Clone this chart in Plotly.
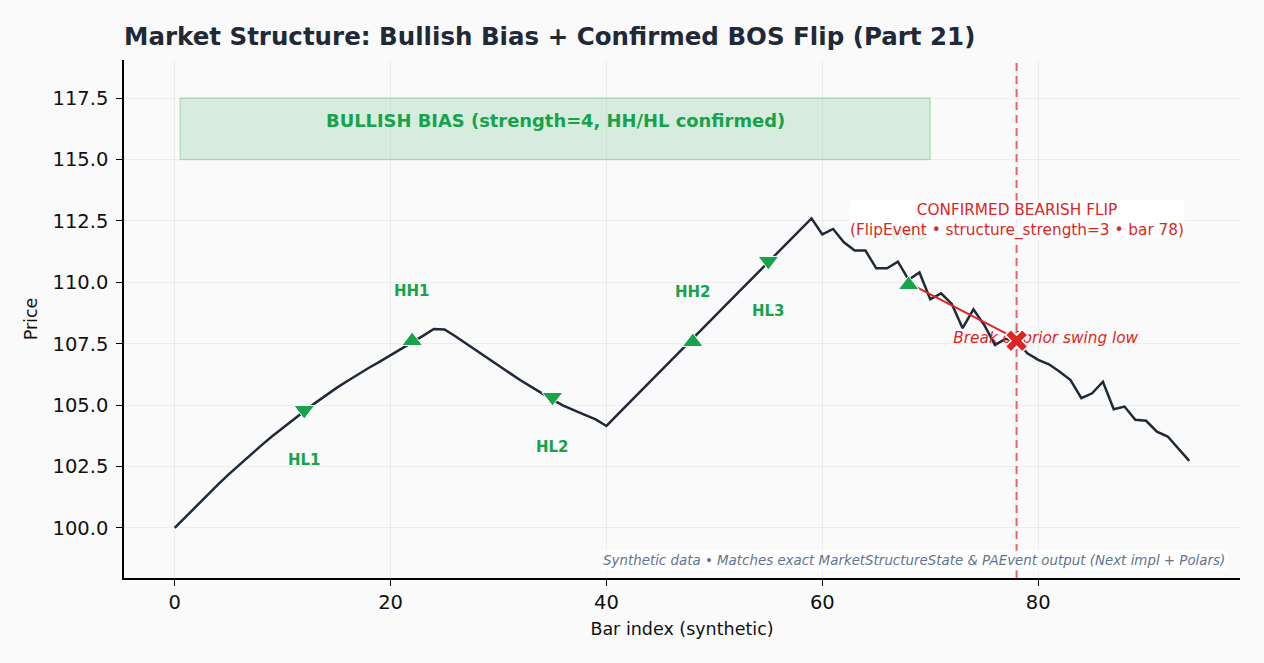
import plotly.graph_objects as go

# ---------------- data ----------------
bars = list(range(95))
price = [
    100.0, 100.45, 100.9, 101.33, 101.76, 102.18, 102.58, 102.97, 103.35, 103.72,
    104.07, 104.41, 104.75, 105.08, 105.40, 105.70, 105.98, 106.26, 106.52, 106.77,
    107.03, 107.28, 107.55, 107.82, 108.10, 108.08, 107.80, 107.50, 107.20, 106.90,
    106.60, 106.30, 106.02, 105.75, 105.48, 105.22, 104.98, 104.78, 104.60, 104.42,
    104.15, 104.60, 105.04, 105.49, 105.93, 106.38, 106.82, 107.27, 107.71, 108.16,
    108.60, 109.05, 109.49, 109.94, 110.38, 110.83, 111.27, 111.72, 112.16, 112.60,
    111.95, 112.17, 111.63, 111.29, 111.29, 110.57, 110.57, 110.84, 110.10, 110.40,
    109.31, 109.55, 109.12, 108.13, 108.90, 108.26, 107.45, 107.70, 107.60, 107.11,
    106.84, 106.66, 106.36, 106.02, 105.28, 105.48, 105.95, 104.83, 104.94, 104.40,
    104.36, 103.92, 103.72, 103.24, 102.73,
]

hl_x = [12, 35, 55]
hl_y = [104.80, 105.33, 110.87]
hl_labels = ["HL1", "HL2", "HL3"]

hh_x = [22, 48, 68]
hh_y = [107.61, 107.57, 109.89]
hh_labels = ["HH1", "HH2", "HH3"]

bias_x = [0.5, 70.0]
bias_y = [115.0, 117.5]
bias_text = "BULLISH BIAS (strength=4, HH/HL confirmed)"

flip_bar = 78
flip_price = 107.62
break_line_x = [68, 78]
break_line_y = [109.97, 107.70]
break_text = "Break of prior swing low"
flip_line1 = "CONFIRMED BEARISH FLIP"
flip_line2 = "(FlipEvent • structure_strength=3 • bar 78)"
footer = "Synthetic data • Matches exact MarketStructureState & PAEvent output (Next impl + Polars)"
title = "Market Structure: Bullish Bias + Confirmed BOS Flip (Part 21)"

x_ticks = [0, 20, 40, 60, 80]
y_ticks = [100.0, 102.5, 105.0, 107.5, 110.0, 112.5, 115.0, 117.5]

# ---------------- styles ----------------
FONT = "DejaVu Sans"
GREEN = "#16a34a"
RED = "#dc2626"
DARK = "#1f2937"

fig = go.Figure()

# price line
fig.add_trace(go.Scatter(x=bars, y=price, mode="lines",
                         line=dict(color=DARK, width=2.5), hoverinfo="skip"))

# red break line
fig.add_trace(go.Scatter(x=break_line_x, y=break_line_y, mode="lines",
                         line=dict(color=RED, width=2.0), hoverinfo="skip"))

# swing markers
fig.add_trace(go.Scatter(x=hl_x, y=hl_y, mode="markers",
                         marker=dict(symbol="triangle-down", size=18, color=GREEN,
                                     line=dict(color="white", width=1))))
fig.add_trace(go.Scatter(x=hh_x, y=hh_y, mode="markers",
                         marker=dict(symbol="triangle-up", size=18, color=GREEN,
                                     line=dict(color="white", width=1))))

# swing labels
for xs, ys, labs, shift in [(hl_x, hl_y, hl_labels, -1), (hh_x, hh_y, hh_labels, 1)]:
    for x, y, lab in zip(xs, ys, labs):
        fig.add_annotation(x=x, y=y, text=f"<b>{lab}</b>", showarrow=False,
                           yshift=50 * shift,
                           font=dict(family=FONT, size=15, color=GREEN),
                           xanchor="center", yanchor="middle")

# break text (under the X marker)
fig.add_trace(go.Scatter(x=[80.7], y=[107.69], mode="text", text=[break_text],
                         textposition="middle center",
                         textfont=dict(family=FONT, size=15.3, color=RED, style="italic"),
                         hoverinfo="skip"))

# flip X marker
fig.add_trace(go.Scatter(x=[flip_bar], y=[flip_price], mode="markers",
                         marker=dict(symbol="x", size=20, color=RED,
                                     line=dict(color="white", width=1.5))))

# shapes
fig.add_shape(type="rect", xref="x", yref="y",
              x0=bias_x[0], x1=bias_x[1], y0=bias_y[0], y1=bias_y[1],
              fillcolor="rgba(22,163,74,0.15)",
              line=dict(color="rgba(22,163,74,0.22)", width=1.5), layer="below")
fig.add_shape(type="line", xref="x", yref="paper", x0=flip_bar, x1=flip_bar, y0=0, y1=1,
              line=dict(color="rgba(220,38,38,0.7)", width=2, dash="8px,5px"), layer="above")

# bias text
fig.add_annotation(x=sum(bias_x) / 2, y=116.57, text=f"<b>{bias_text}</b>", showarrow=False,
                   font=dict(family=FONT, size=17.9, color=GREEN))

# flip annotation box
fig.add_annotation(x=flip_bar, y=112.52,
                   text=flip_line1 + "<br>" + flip_line2, showarrow=False,
                   font=dict(family=FONT, size=15.3, color=RED),
                   bgcolor="rgba(255,255,255,0.85)", borderpad=0,
                   xanchor="center", yanchor="middle")

# footer
fig.add_annotation(xref="paper", yref="paper", x=0.989, y=0.033, text=footer,
                   showarrow=False, xanchor="right", yanchor="middle",
                   font=dict(family=FONT, size=13.4, color="#64748b", style="italic"),
                   bgcolor="rgba(255,255,255,0.7)", borderpad=2)

axis_common = dict(
    showline=True, linecolor="black", linewidth=1.5, mirror=False,
    ticks="outside", ticklen=6, tickwidth=1.2, tickcolor="black",
    showgrid=True, gridcolor="rgba(0,0,0,0.05)", gridwidth=1, zeroline=False,
    tickfont=dict(family=FONT, size=19.5, color="#111111"),
)

fig.update_layout(
    width=1264, height=663,
    margin=dict(l=124, r=24, t=60, b=85),
    paper_bgcolor="#fafafa", plot_bgcolor="#fafafa",
    showlegend=False,
    title=dict(text=f"<b>{title}</b>", x=124 / 1264, xanchor="left",
               y=1 - 36 / 663, yanchor="middle", yref="container",
               font=dict(family=FONT, size=24.5, color=DARK)),
    xaxis=dict(range=[-4.7, 98.7], tickvals=x_ticks,
               title=dict(text="Bar index (synthetic)", font=dict(family=FONT, size=17.5, color="#111111"),
                          standoff=10),
               **axis_common),
    yaxis=dict(range=[97.96, 119.05], tickvals=y_ticks, tickformat=".1f",
               ticklabelstandoff=4,
               title=dict(text="Price", font=dict(family=FONT, size=17.5, color="#111111"),
                          standoff=10),
               **axis_common),
)

fig.write_html("out.html")
